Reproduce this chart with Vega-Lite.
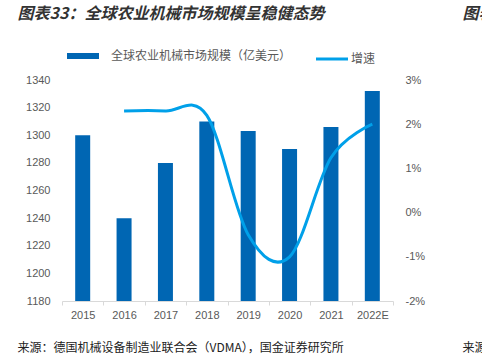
{
  "$schema": "https://vega.github.io/schema/vega-lite/v6.json",
  "autosize": {"type": "none"},
  "width": 331,
  "height": 221,
  "padding": {"left": 62, "top": 80, "right": 89, "bottom": 58},
  "background": "white",
  "config": {
    "view": {"stroke": null},
    "axis": {"labelFont": "Liberation Sans", "labelFontSize": 11, "labelColor": "#595959", "grid": false,
      "titleFont": "Noto Sans CJK SC", "titleFontWeight": "normal", "titleColor": "#222222"}
  },
  "data": {
    "values": [
      {"year": "2015", "size": 1300, "growth": null},
      {"year": "2016", "size": 1240, "growth": 2.3},
      {"year": "2017", "size": 1280, "growth": 2.3},
      {"year": "2018", "size": 1310, "growth": 2.2},
      {"year": "2019", "size": 1303, "growth": -0.5},
      {"year": "2020", "size": 1290, "growth": -1.0},
      {"year": "2021", "size": 1306, "growth": 1.24},
      {"year": "2022E", "size": 1332, "growth": 2.0}
    ]
  },
  "layer": [
    {
      "mark": {"type": "bar", "size": 15},
      "encoding": {
        "x": {"field": "year", "type": "ordinal", "sort": null,
          "scale": {"paddingInner": 0, "paddingOuter": 0},
          "axis": {"orient": "bottom", "labelAngle": 0, "domainColor": "#D9D9D9", "tickColor": "#D9D9D9", "tickSize": 4, "tickBand": "extent", "labelPadding": 4,
            "title": "来源：德国机械设备制造业联合会（VDMA），国金证券研究所", "titleFontSize": 12, "titleAnchor": "start", "titleAlign": "left", "titleBaseline": "middle", "titleX": -45, "titleY": 46}},
        "y": {"field": "size", "type": "quantitative",
          "scale": {"domain": [1180, 1340], "zero": false, "nice": false},
          "axis": {"orient": "left", "values": [1180, 1200, 1220, 1240, 1260, 1280, 1300, 1320, 1340], "format": "d", "domain": false, "ticks": false, "tickSize": 0, "labelPadding": 12,
            "title": "图表33：全球农业机械市场规模呈稳健态势", "titleFontSize": 16, "titleFontStyle": "italic", "titleFontWeight": "bold", "titleColor": "#333333", "titleAngle": 0, "titleAlign": "left", "titleBaseline": "middle", "titleX": -45, "titleY": -67}},
        "y2": {"datum": 1180},
        "color": {"datum": "全球农业机械市场规模（亿美元）",
          "scale": {"domain": ["全球农业机械市场规模（亿美元）", "增速"], "range": ["#0066B3", "#00A0E9"]},
          "legend": {"orient": "none", "legendX": 15, "legendY": -30, "direction": "horizontal", "title": null,
            "symbolType": "stroke", "symbolSize": 1024, "symbolStrokeWidth": 6, "labelOffset": 22, "columnPadding": 18, "labelLimit": 400,
            "labelFont": "Noto Sans CJK SC", "labelFontSize": 12, "labelColor": "#595959",
            "encode": {
              "symbols": {"update": {"stroke": {"signal": "scale('color', datum.value)"}, "strokeWidth": {"signal": "datum.value === '增速' ? 3 : 6"}}},
              "labels": {"update": {"dx": {"signal": "datum.value === '增速' ? -9 : 0"}}}}}}
      }
    },
    {
      "mark": {"type": "line", "interpolate": "cardinal", "strokeWidth": 3},
      "encoding": {
        "x": {"field": "year", "type": "ordinal", "sort": null,
          "axis": {"orient": "top", "labels": false, "domain": false, "ticks": false,
            "title": "来源", "titleFontSize": 12, "titleAnchor": "start", "titleAlign": "left", "titleBaseline": "middle", "titleX": 400, "titleY": 267}},
        "y": {"field": "growth", "type": "quantitative",
          "scale": {"domain": [-2, 3], "zero": false, "nice": false},
          "axis": {"orient": "right", "values": [-2, -1, 0, 1, 2, 3], "labelExpr": "datum.value + '%'", "domain": false, "ticks": false, "tickSize": 0, "labelPadding": 12,
            "title": "图表", "titleFontSize": 16, "titleFontStyle": "italic", "titleFontWeight": "bold", "titleColor": "#333333", "titleAngle": 0, "titleAlign": "left", "titleBaseline": "middle", "titleX": 69, "titleY": -67}},
        "color": {"datum": "增速"}
      }
    }
  ],
  "resolve": {"scale": {"y": "independent"}, "axis": {"x": "independent"}}
}
